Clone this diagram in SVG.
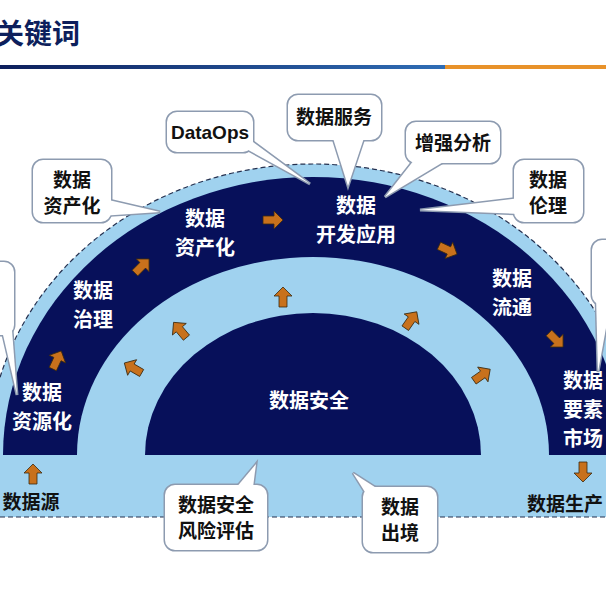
<svg xmlns="http://www.w3.org/2000/svg" width="606" height="607" viewBox="0 0 606 607">
<defs>
<linearGradient id="hl" x1="0" x2="1"><stop offset="0" stop-color="#0d1f5c"/><stop offset="1" stop-color="#2f6db5"/></linearGradient>
<path id="ar" d="M-10,-4 L1,-4 L1,-9 L10,0 L1,9 L1,4 L-10,4 Z"/>
</defs>
<style>
.dk{fill:#07105a}.lt{fill:#a0d2ef}
.w{fill:#fff;font-family:"Noto Sans CJK SC",sans-serif;font-weight:bold;font-size:20px;text-anchor:middle}
.b{fill:#111;font-family:"Noto Sans CJK SC",sans-serif;font-weight:bold;font-size:19px;text-anchor:middle}
.a{fill:#c8711c;stroke:#3a2a10;stroke-width:0.8}
.co{fill:#fff;stroke:#8d9bb0;stroke-width:3}
.cf{fill:#fff}
</style>
<rect width="606" height="607" fill="#fff"/>
<text x="-4" y="44" style="fill:#0d1f5c;font-family:'Noto Sans CJK SC',sans-serif;font-weight:bold;font-size:28px">关键词</text>
<rect x="0" y="65" width="445" height="4" fill="url(#hl)"/>
<rect x="445" y="65" width="161" height="4" fill="#e8922a"/>
<g id="rings">
<rect x="0" y="455" width="606" height="62" class="lt"/>
<path d="M-12,456 A325,292 0 0 1 638,456 Z" class="lt"/>
<path d="M-12,456 A325,292 0 0 1 638,456" fill="none" stroke="#24304f" stroke-width="1.2" stroke-dasharray="5,3"/>
<path d="M3,455 A310,278 0 0 1 623,455 Z" class="dk"/>
<path d="M77,455 A236,198 0 0 1 549,455 Z" class="lt"/>
<path d="M145,455 A168,142 0 0 1 481,455 Z" class="dk"/>
<line x1="0" y1="517" x2="606" y2="517" stroke="#24304f" stroke-width="1.2" stroke-dasharray="5,3"/>
</g>
<g id="connectors">
<use href="#ar" class="a" transform="translate(33,474) rotate(-90)"/>
<use href="#ar" class="a" transform="translate(57,360) rotate(-65)"/>
<use href="#ar" class="a" transform="translate(142,266) rotate(-45)"/>
<use href="#ar" class="a" transform="translate(273,220)"/>
<use href="#ar" class="a" transform="translate(448,250) rotate(25)"/>
<use href="#ar" class="a" transform="translate(556,340) rotate(45)"/>
<use href="#ar" class="a" transform="translate(583,472) rotate(90)"/>
<use href="#ar" class="a" transform="translate(133,368) rotate(-150)"/>
<use href="#ar" class="a" transform="translate(180,330) rotate(-130)"/>
<use href="#ar" class="a" transform="translate(283,297) rotate(-90)"/>
<use href="#ar" class="a" transform="translate(411,320) rotate(-55)"/>
<use href="#ar" class="a" transform="translate(482,375) rotate(-35)"/>
</g>
<g id="labels">
<text class="w" x="42" y="400">数据</text><text class="w" x="42" y="429">资源化</text>
<text class="w" x="93" y="298">数据</text><text class="w" x="93" y="327">治理</text>
<text class="w" x="205" y="226">数据</text><text class="w" x="205" y="255">资产化</text>
<text class="w" x="356" y="213">数据</text><text class="w" x="356" y="242">开发应用</text>
<text class="w" x="512" y="286">数据</text><text class="w" x="512" y="315">流通</text>
<text class="w" x="583" y="388">数据</text><text class="w" x="583" y="417">要素</text><text class="w" x="583" y="446">市场</text>
<text class="w" x="309" y="408">数据安全</text>
<text class="b" x="31" y="509">数据源</text>
<text class="b" x="565" y="511">数据生产</text>
</g>
<g id="callouts">
<g class="co"><rect x="33" y="160" width="78" height="62" rx="10"/><polygon points="100,198 160,212 100,216"/>
<rect x="167" y="112" width="86" height="40" rx="10"/><polygon points="230,140 310,184 253,142"/>
<rect x="288" y="95" width="93" height="45" rx="10"/><polygon points="332,135 348,186 365,135"/>
<rect x="406" y="122" width="94" height="41" rx="10"/><polygon points="418,155 385,197 450,158"/>
<rect x="514" y="160" width="69" height="62" rx="10"/><polygon points="520,198 420,210 520,214"/>
<rect x="-20" y="262" width="34" height="73" rx="10"/><polygon points="0,322 17,395 12,330"/>
<rect x="592" y="240" width="34" height="65" rx="10"/><polygon points="596,295 598,372 612,295"/>
<rect x="165" y="485" width="102" height="65" rx="10"/><polygon points="230,495 256,464 252,495"/>
<rect x="363" y="487" width="74" height="65" rx="10"/><polygon points="370,500 353,473 395,500"/></g>
<g class="cf"><rect x="33" y="160" width="78" height="62" rx="10"/><polygon points="100,198 160,212 100,216"/>
<rect x="167" y="112" width="86" height="40" rx="10"/><polygon points="230,140 310,184 253,142"/>
<rect x="288" y="95" width="93" height="45" rx="10"/><polygon points="332,135 348,186 365,135"/>
<rect x="406" y="122" width="94" height="41" rx="10"/><polygon points="418,155 385,197 450,158"/>
<rect x="514" y="160" width="69" height="62" rx="10"/><polygon points="520,198 420,210 520,214"/>
<rect x="-20" y="262" width="34" height="73" rx="10"/><polygon points="0,322 17,395 12,330"/>
<rect x="592" y="240" width="34" height="65" rx="10"/><polygon points="596,295 598,372 612,295"/>
<rect x="165" y="485" width="102" height="65" rx="10"/><polygon points="230,495 256,464 252,495"/>
<rect x="363" y="487" width="74" height="65" rx="10"/><polygon points="370,500 353,473 395,500"/></g>
<text class="b" x="72" y="187">数据</text><text class="b" x="72" y="213">资产化</text>
<text class="b" x="210" y="139" style="font-family:'Liberation Sans',sans-serif">DataOps</text>
<text class="b" x="334" y="124">数据服务</text>
<text class="b" x="453" y="150">增强分析</text>
<text class="b" x="548" y="187">数据</text><text class="b" x="548" y="213">伦理</text>
<text class="b" x="216" y="512">数据安全</text><text class="b" x="216" y="538">风险评估</text>
<text class="b" x="400" y="514">数据</text><text class="b" x="400" y="540">出境</text>
</g>
</svg>
